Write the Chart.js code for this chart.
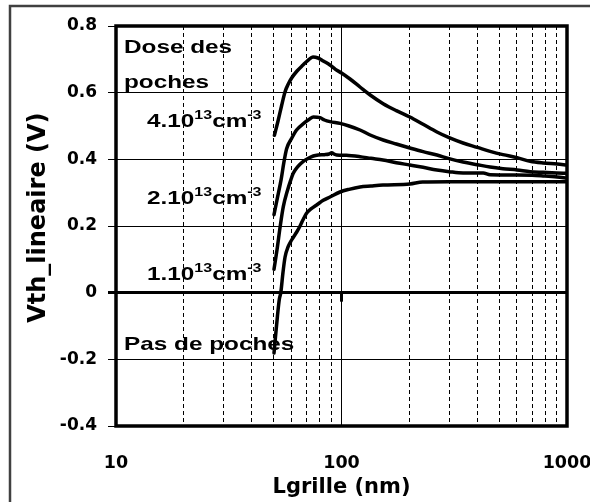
<!DOCTYPE html>
<html>
<head>
<meta charset="utf-8">
<script src="https://cdn.jsdelivr.net/npm/chart.js@4.4.1/dist/chart.umd.min.js"></script>
<style>
  html, body { margin: 0; padding: 0; background: #fff; }
  #wrap { position: relative; width: 590px; height: 502px; }
</style>
</head>
<body>
<div id="wrap"><canvas id="vth"></canvas></div>
<script>
// Vth (linear regime) vs gate length, one curve per pocket dose.
// Values (L in nm, V in volts).
const L_4e13 = [50.4, 52.3, 54.2, 56.2, 58, 60.1, 63.5, 67.5, 71, 74.7, 78.7, 83.5, 88.9, 94, 100, 109.1, 120.8, 134, 153, 175, 201, 230, 265, 300, 346, 400, 456, 520, 601, 687, 784, 904, 1000];
const V_4e13 = [0.472, 0.515, 0.56, 0.603, 0.625, 0.644, 0.665, 0.683, 0.697, 0.707, 0.704, 0.694, 0.683, 0.670, 0.659, 0.641, 0.617, 0.593, 0.567, 0.546, 0.527, 0.505, 0.482, 0.465, 0.449, 0.436, 0.424, 0.414, 0.405, 0.394, 0.389, 0.386, 0.383];

const L_2e13 = [50.2, 52, 54, 55.5, 57.1, 60, 63.2, 68, 72, 75, 80.3, 84, 88.9, 98.5, 108, 120.8, 134, 153, 175, 201, 230, 265, 300, 346, 400, 456, 520, 601, 687, 784, 900, 1000];
const V_2e13 = [0.234, 0.285, 0.34, 0.39, 0.432, 0.462, 0.488, 0.508, 0.52, 0.527, 0.525, 0.518, 0.513, 0.508, 0.500, 0.488, 0.473, 0.458, 0.446, 0.434, 0.423, 0.413, 0.402, 0.392, 0.384, 0.377, 0.372, 0.368, 0.363, 0.361, 0.359, 0.358];

const L_1e13 = [50.2, 51.8, 53.5, 55.2, 57.5, 59.5, 61.1, 64, 67.5, 71.3, 75, 78.9, 84, 88, 90.5, 92.5, 95.2, 105, 120.8, 135, 152.7, 175, 201, 230, 265, 300, 346, 425, 456, 601, 700, 784, 904, 1000];
const V_1e13 = [0.07, 0.13, 0.2, 0.258, 0.305, 0.337, 0.358, 0.378, 0.393, 0.403, 0.41, 0.413, 0.414, 0.416, 0.42, 0.416, 0.413, 0.412, 0.408, 0.403, 0.398, 0.39, 0.383, 0.376, 0.368, 0.363, 0.359, 0.359, 0.354, 0.353, 0.352, 0.35, 0.347, 0.344];

const L_none = [50.2, 51, 52, 53, 53.8, 55, 56.2, 58, 60.1, 63.3, 65.5, 67.4, 70.1, 73.5, 77.6, 83, 88.9, 98.5, 108, 120.8, 135, 152.7, 201, 229, 300, 400, 600, 800, 1000];
const V_none = [-0.181, -0.13, -0.07, -0.02, 0, 0.06, 0.107, 0.138, 0.158, 0.182, 0.2, 0.218, 0.239, 0.252, 0.263, 0.277, 0.287, 0.302, 0.31, 0.317, 0.32, 0.323, 0.326, 0.332, 0.333, 0.333, 0.333, 0.333, 0.333];

const xTickLabels = [10, 100, 1000];
const yTickMin = -0.4, yTickMax = 0.8, yTickStep = 0.2;

const SERIES = [
  { label: '4.10^13 cm-3', L: L_4e13, V: V_4e13 },
  { label: '2.10^13 cm-3', L: L_2e13, V: V_2e13 },
  { label: '1.10^13 cm-3', L: L_1e13, V: V_1e13 },
  { label: 'Pas de poches', L: L_none, V: V_none },
];

// in-plot labels (Excel text boxes); second item = superscript run
const NOTES = [
  { x: 124, y: 53,  runs: [['Dose des']] },
  { x: 124, y: 88,  runs: [['poches']] },
  { x: 147, y: 127, runs: [['4.10'], ['13', 1], ['cm'], ['-3', 1]] },
  { x: 147, y: 204, runs: [['2.10'], ['13', 1], ['cm'], ['-3', 1]] },
  { x: 147, y: 280, runs: [['1.10'], ['13', 1], ['cm'], ['-3', 1]] },
  { x: 124, y: 350, runs: [['Pas de poches']] },
];

const NOTE_FONT = 'bold 19px "Liberation Sans", Arial, sans-serif';
const SUP_FONT  = 'bold 12.5px "Liberation Sans", Arial, sans-serif';
const NOTE_STRETCH = 1.28;

function isMantissaInt(v){
  const m = v / Math.pow(10, Math.floor(Math.log10(v) + 1e-9));
  return Math.abs(m - Math.round(m)) < 1e-6;
}

const framePlugin = {
  id: 'frame',
  beforeDraw(chart){
    const c = chart.ctx;
    c.save();
    c.strokeStyle = '#404040';
    c.lineWidth = 2.5;
    c.strokeRect(10, 6, chart.width + 40, chart.height + 40);
    c.restore();
  },
  afterDatasetsDraw(chart){
    const { ctx: c, chartArea: a, scales: { x, y } } = chart;
    c.save();
    c.strokeStyle = '#000';
    c.lineWidth = 3.5;
    c.strokeRect(a.left, a.top, a.right - a.left, a.bottom - a.top);
    // axis tick mark crossing the zero line at 100 nm
    const px = x.getPixelForValue(100), py = y.getPixelForValue(0);
    c.lineWidth = 3;
    c.beginPath(); c.moveTo(px, py); c.lineTo(px, py + 9); c.stroke();
    c.restore();
  },
  afterDraw(chart){
    const c = chart.ctx;
    c.save();
    c.fillStyle = '#000';
    c.textBaseline = 'alphabetic';
    NOTES.forEach(n => {
      c.save();
      c.translate(n.x, n.y);
      c.scale(NOTE_STRETCH, 1);
      let dx = 0;
      n.runs.forEach(([t, sup]) => {
        c.font = sup ? SUP_FONT : NOTE_FONT;
        c.fillText(t, dx, sup ? -8 : 0);
        dx += c.measureText(t).width;
      });
      c.restore();
    });
    c.restore();
  }
};

Chart.defaults.color = '#000';
Chart.defaults.font.family = '"DejaVu Sans", sans-serif';
Chart.defaults.font.weight = 'bold';

new Chart(document.getElementById('vth'), {
  type: 'line',
  data: {
    datasets: SERIES.map(s => ({
      label: s.label,
      data: s.L.map((l, i) => ({ x: l, y: s.V[i] })),
      borderColor: '#000',
      borderWidth: 3.5,
      borderCapStyle: 'round',
      borderJoinStyle: 'round',
      pointRadius: 0,
      cubicInterpolationMode: 'monotone',
      fill: false,
    }))
  },
  options: {
    responsive: true,
    maintainAspectRatio: false,
    animation: false,
    layout: { padding: { left: 0, right: 23, top: 26, bottom: 0 } },
    plugins: { legend: { display: false }, tooltip: { enabled: false } },
    scales: {
      x: {
        type: 'logarithmic',
        min: 10, max: 1000,
        afterBuildTicks: sc => { sc.ticks = sc.ticks.filter(t => isMantissaInt(t.value)); },
        afterFit: sc => { sc.height = 76; sc.paddingLeft = 0; sc.paddingRight = 0; },
        ticks: {
          autoSkip: false, maxRotation: 0, minRotation: 0, padding: 27,
          font: { size: 17.5 },
          callback: v => xTickLabels.includes(v) ? String(v) : '',
        },
        grid: {
          drawTicks: false,
          color: '#000',
          lineWidth: 1,
        },
        border: {
          display: false,
          dash: ctx => (ctx.tick && !xTickLabels.includes(ctx.tick.value)) ? [4, 3] : [],
        },
        title: {
          display: true, text: 'Lgrille (nm)',
          font: { size: 21 }, padding: { top: 0, bottom: 2 },
        },
      },
      y: {
        min: yTickMin, max: yTickMax,
        afterFit: sc => { sc.width = 116; },
        ticks: {
          stepSize: yTickStep, padding: 11,
          font: { size: 17 },
          callback: v => Math.abs(v) < 1e-9 ? '0' : v.toFixed(1),
        },
        grid: {
          color: '#000',
          tickLength: 8,
          lineWidth: ctx => (ctx.tick && Math.abs(ctx.tick.value) < 1e-9) ? 3 : 1,
        },
        border: { display: false },
        title: {
          display: true, text: '  Vth_lineaire (V)',
          font: { size: 24 }, padding: { top: 24, bottom: 0 },
        },
      },
    },
  },
  plugins: [framePlugin],
});
</script>
</body>
</html>
